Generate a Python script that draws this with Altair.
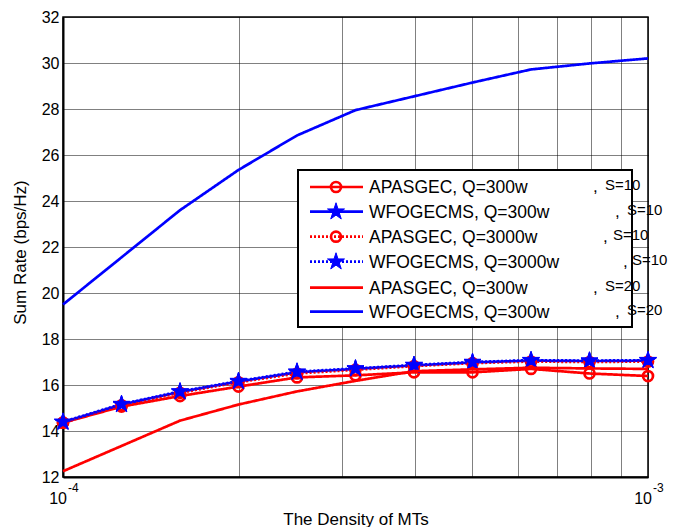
import altair as alt
import pandas as pd

# ---------------- data ----------------
density = [1.0e-4, 1.259e-4, 1.585e-4, 1.995e-4, 2.512e-4, 3.162e-4,
           3.981e-4, 5.012e-4, 6.310e-4, 7.943e-4, 1.0e-3]

apas_q300_s10 = [14.36, 15.06, 15.52, 15.93, 16.33, 16.42, 16.55, 16.55, 16.70, 16.50, 16.39]
wfo_q300_s10 = [14.38, 15.15, 15.70, 16.15, 16.55, 16.70, 16.85, 16.98, 17.06, 17.04, 17.06]
apas_q3000_s10 = [14.36, 15.12, 15.66, 16.12, 16.50, 16.66, 16.82, 16.95, 17.02, 17.00, 17.02]
wfo_q3000_s10 = [14.40, 15.17, 15.72, 16.17, 16.58, 16.72, 16.87, 17.00, 17.08, 17.06, 17.08]
apas_q300_s20 = [12.25, 13.35, 14.45, 15.15, 15.72, 16.18, 16.60, 16.68, 16.75, 16.72, 16.70]
wfo_q300_s20 = [19.50, 21.55, 23.60, 25.35, 26.85, 27.95, 28.55, 29.15, 29.72, 29.98, 30.20]

series_values = [apas_q300_s10, wfo_q300_s10, apas_q3000_s10,
                 wfo_q3000_s10, apas_q300_s20, wfo_q300_s20]
legend_labels = ["APASGEC, Q=300w", "WFOGECMS, Q=300w", "APASGEC, Q=3000w",
                 "WFOGECMS, Q=3000w", "APASGEC, Q=300w", "WFOGECMS, Q=300w"]
legend_suffix = ["S=10", "S=10", "S=10", "S=10", "S=20", "S=20"]

x_ticks = [1e-4, 2e-4, 3e-4, 4e-4, 5e-4, 6e-4, 7e-4, 8e-4, 9e-4, 1e-3]
y_ticks = [12, 14, 16, 18, 20, 22, 24, 26, 28, 30, 32]
x_tick_labels = ["-4", "-3"]

# ---------------- styles ----------------
RED = "#FF0000"
BLUE = "#0000FF"
FONT = "Liberation Sans"
STAR = ("M0,-1 L0.2245,-0.309 L0.951,-0.309 L0.363,0.118 L0.588,0.809 "
        "L0,0.382 L-0.588,0.809 L-0.363,0.118 L-0.951,-0.309 L-0.2245,-0.309 Z")
styles = [
    dict(color=RED, dash=[1, 0], marker="circle"),
    dict(color=BLUE, dash=[1, 0], marker="star"),
    dict(color=RED, dash=[2, 2], marker="circle"),
    dict(color=BLUE, dash=[2, 2], marker="star"),
    dict(color=RED, dash=[1, 0], marker=None),
    dict(color=BLUE, dash=[1, 0], marker=None),
]

W, H = 585, 460

xscale = alt.Scale(type="log", domain=[1e-4, 1e-3], nice=False)
yscale = alt.Scale(domain=[12, 32], nice=False, zero=False)

x_enc = alt.X("density:Q", scale=xscale,
              axis=alt.Axis(values=x_ticks, labels=False, ticks=False, grid=True,
                            title="The Density of MTs", titleX=W / 2, titleY=42,
                            titleBaseline="middle", titleAlign="center"))
y_enc = alt.Y("rate:Q", scale=yscale,
              axis=alt.Axis(values=y_ticks, ticks=False, grid=True, labelPadding=4,
                            title="Sum Rate (bps/Hz)", titleX=-43, titleY=235,
                            titleAngle=-90, titleBaseline="middle", titleAlign="center"))

layers = []
for i, (vals, st) in enumerate(zip(series_values, styles)):
    df = pd.DataFrame({"density": density, "rate": vals})
    line = alt.Chart(df).mark_line(color=st["color"], strokeWidth=2.7,
                                   strokeDash=st["dash"]).encode(x=x_enc, y=y_enc)
    layers.append(line)
    if st["marker"] == "circle":
        layers.append(alt.Chart(df).mark_point(shape="circle", filled=False, size=100,
                                               strokeWidth=2.7, color=st["color"],
                                               opacity=1).encode(x=x_enc, y=y_enc))
    elif st["marker"] == "star":
        layers.append(alt.Chart(df).mark_point(shape=STAR, filled=True, size=320,
                                               color=st["color"], stroke=st["color"],
                                               strokeWidth=1, opacity=1).encode(x=x_enc, y=y_enc))

# x tick labels with superscript exponent
tick_df = pd.DataFrame({"density": [1e-4, 1e-3], "base": ["10", "10"], "exp": x_tick_labels})
layers.append(alt.Chart(tick_df).mark_text(font=FONT, fontSize=16, align="right",
                                           baseline="middle", dx=4, color="black")
              .encode(x=x_enc, y=alt.value(H + 22), text="base:N"))
layers.append(alt.Chart(tick_df).mark_text(font=FONT, fontSize=12, align="left",
                                           baseline="middle", dx=5, color="black")
              .encode(x=x_enc, y=alt.value(H + 11), text="exp:N"))

# ---------------- manual legend ----------------
one = alt.Data(values=[{"a": 1}])
box_l, box_r, box_t, box_b = 235, 569, 153, 310
layers.append(alt.Chart(one).mark_rect(fill="white", stroke="black", strokeWidth=2)
              .encode(x=alt.value(box_l), x2=alt.value(box_r),
                      y=alt.value(box_t), y2=alt.value(box_b)))
row_y = [170, 194.7, 219.7, 244.7, 270.7, 294.7]
comma_x = [530, 552, 540, 560, 530, 552]
s_x = [542, 564, 550, 569, 542, 564]
for i, st in enumerate(styles):
    ry = row_y[i]
    layers.append(alt.Chart(one).mark_rule(color=st["color"], strokeWidth=2.7,
                                           strokeDash=st["dash"])
                  .encode(x=alt.value(247), x2=alt.value(300), y=alt.value(ry)))
    if st["marker"] == "circle":
        layers.append(alt.Chart(one).mark_point(shape="circle", filled=False, size=100,
                                                strokeWidth=2.7, color=st["color"], opacity=1)
                      .encode(x=alt.value(273), y=alt.value(ry)))
    elif st["marker"] == "star":
        layers.append(alt.Chart(one).mark_point(shape=STAR, filled=True, size=320,
                                                color=st["color"], stroke=st["color"],
                                                strokeWidth=1, opacity=1)
                      .encode(x=alt.value(273), y=alt.value(ry)))
    layers.append(alt.Chart(one).mark_text(text=legend_labels[i], font=FONT, fontSize=17.5,
                                           align="left", baseline="middle", color="black")
                  .encode(x=alt.value(306), y=alt.value(ry + 1)))
    layers.append(alt.Chart(one).mark_text(text=",", font=FONT, fontSize=17,
                                           align="left", baseline="middle", color="black")
                  .encode(x=alt.value(comma_x[i]), y=alt.value(ry)))
    layers.append(alt.Chart(one).mark_text(text=legend_suffix[i], font=FONT, fontSize=15,
                                           align="left", baseline="middle", color="black")
                  .encode(x=alt.value(s_x[i]), y=alt.value(ry - 2)))

chart = (alt.layer(*layers)
         .properties(width=W, height=H,
                     autosize=alt.AutoSizeParams(type="none"),
                     padding={"left": 55, "top": 9, "right": 20, "bottom": 50},
                     background="white")
         .configure_axis(labelFont=FONT, labelFontSize=16, labelColor="black",
                         titleFont=FONT, titleFontSize=17, titleFontWeight="normal",
                         titleColor="black", gridColor="black", gridDash=[1, 1],
                         gridOpacity=1, gridWidth=1, domainColor="black", domainWidth=2)
         .configure_view(stroke="black", strokeWidth=1.5))

chart.save("out.html", embed_options={"renderer": "svg", "actions": False})
